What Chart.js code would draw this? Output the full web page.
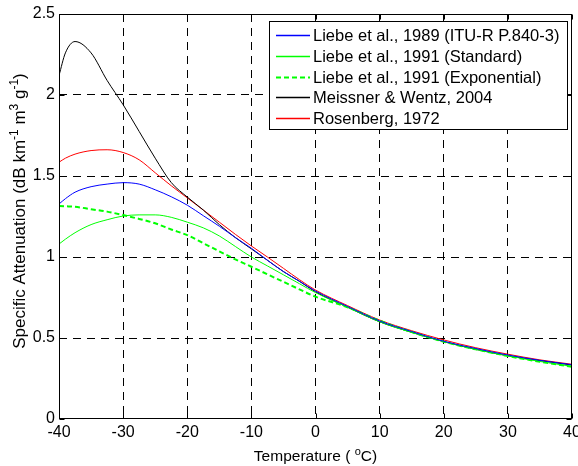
<!DOCTYPE html>
<html>
<head>
<meta charset="utf-8">
<script src="https://cdn.jsdelivr.net/npm/chart.js@4.4.1/dist/chart.umd.min.js"></script>
<style>
  html, body { margin: 0; padding: 0; background: #fff; }
  #wrap { width: 578px; height: 466px; }
</style>
</head>
<body>
<div id="wrap"><canvas id="attnChart"></canvas></div>
<script>
// temperatures (deg C) and specific attenuation (dB km-1 m3 g-1)
const temps = [-40, -39, -37.5, -35, -32.5, -30, -27.5, -25, -22.5, -20, -17.5, -15, -12.5, -10, -7.5, -5, -2.5, 0, 5, 10, 15, 20, 25, 30, 35, 40];

const liebe1989 = [1.327, 1.36, 1.40, 1.434, 1.45, 1.459, 1.45, 1.415, 1.372, 1.32, 1.255, 1.19, 1.12, 1.054, 0.98, 0.91, 0.85, 0.79, 0.695, 0.605, 0.54, 0.48, 0.435, 0.395, 0.362, 0.335];
const liebe1991Std = [1.08, 1.11, 1.15, 1.20, 1.23, 1.253, 1.26, 1.26, 1.245, 1.215, 1.18, 1.13, 1.065, 1.0, 0.945, 0.89, 0.835, 0.78, 0.69, 0.60, 0.535, 0.478, 0.43, 0.39, 0.355, 0.325];
const liebe1991Exp = [1.315, 1.313, 1.31, 1.295, 1.28, 1.259, 1.235, 1.208, 1.17, 1.135, 1.085, 1.035, 0.985, 0.94, 0.893, 0.847, 0.80, 0.755, 0.69, 0.607, 0.537, 0.477, 0.43, 0.389, 0.353, 0.323];
const meissner2004 = [2.12, 2.26, 2.33, 2.26, 2.09, 1.94, 1.775, 1.61, 1.46, 1.37, 1.29, 1.20, 1.12, 1.05, 0.98, 0.91, 0.85, 0.785, 0.69, 0.60, 0.535, 0.477, 0.43, 0.39, 0.36, 0.333];
const rosenberg1972 = [1.585, 1.61, 1.635, 1.657, 1.662, 1.645, 1.60, 1.52, 1.44, 1.365, 1.29, 1.215, 1.14, 1.068, 1.0, 0.93, 0.86, 0.796, 0.70, 0.611, 0.545, 0.488, 0.44, 0.40, 0.365, 0.338];

const xTicks = [-40, -30, -20, -10, 0, 10, 20, 30, 40];
const yTicks = [0, 0.5, 1, 1.5, 2, 2.5];

const FONT = '"Liberation Sans", Arial, sans-serif';

function pts(vals) {
    return temps.map((t, i) => ({ x: t, y: vals[i] }));
}

function series(label, vals, color, dash, width) {
    return {
        label: label,
        data: pts(vals),
        borderColor: color,
        backgroundColor: color,
        borderWidth: width,
        borderDash: dash,
        pointRadius: 0,
        fill: false,
        cubicInterpolationMode: 'monotone'
    };
}

function drawPieces(ctx, pieces, cx, baseY, size, supSize, rise) {
    const big = size + 'px ' + FONT, small = supSize + 'px ' + FONT;
    let total = 0;
    pieces.forEach(p => {
        ctx.font = p[1] ? small : big;
        total += ctx.measureText(p[0]).width;
    });
    let x = cx - total / 2;
    ctx.fillStyle = '#000';
    ctx.textAlign = 'left';
    ctx.textBaseline = 'alphabetic';
    pieces.forEach(p => {
        ctx.font = p[1] ? small : big;
        ctx.fillText(p[0], x, p[1] ? baseY - rise : baseY);
        x += ctx.measureText(p[0]).width;
    });
}

// axis box, inward ticks, axis titles and legend, MATLAB style
const decor = {
    id: 'decor',
    afterDraw(chart) {
        const ctx = chart.ctx;
        const a = chart.chartArea;
        const xs = chart.scales.x, ys = chart.scales.y;
        const L = Math.round(a.left) + 0.5, R = Math.round(a.right) - 0.5;
        const T = Math.round(a.top) + 0.5, B = Math.round(a.bottom) - 0.5;
        ctx.save();
        ctx.strokeStyle = '#000';
        ctx.lineWidth = 1;
        ctx.setLineDash([]);
        ctx.strokeRect(L, T, R - L, B - T);
        ctx.beginPath();
        xTicks.forEach(v => {
            const px = Math.round(xs.getPixelForValue(v)) + 0.5;
            ctx.moveTo(px, B); ctx.lineTo(px, B - 5);
            ctx.moveTo(px, T); ctx.lineTo(px, T + 5);
        });
        yTicks.forEach(v => {
            const py = Math.round(ys.getPixelForValue(v)) + 0.5;
            ctx.moveTo(L, py); ctx.lineTo(L + 5, py);
            ctx.moveTo(R, py); ctx.lineTo(R - 5, py);
        });
        ctx.stroke();

        // x title
        drawPieces(ctx, [['Temperature ( ', false], ['o', true], ['C)', false]], (a.left + a.right) / 2, 461, 15.5, 11, 6);

        // y title
        ctx.save();
        ctx.translate(25, 211);
        ctx.rotate(-Math.PI / 2);
        drawPieces(ctx, [['Specific Attenuation (dB km', false], ['-1', true], [' m', false], ['3', true], [' g', false], ['-1', true], [')', false]], 0, 0, 17, 12, 7);
        ctx.restore();

        // legend
        const bx = 269.5, by = 21.5, bw = 298, bh = 108;
        ctx.fillStyle = '#fff';
        ctx.fillRect(bx, by, bw, bh);
        ctx.strokeStyle = '#000';
        ctx.lineWidth = 1;
        ctx.strokeRect(bx, by, bw, bh);
        ctx.font = '16.5px ' + FONT;
        ctx.textBaseline = 'middle';
        ctx.textAlign = 'left';
        chart.data.datasets.forEach((ds, i) => {
            const yy = Math.round(35 + i * 20.8) + 0.5;
            ctx.save();
            ctx.beginPath();
            ctx.strokeStyle = ds.borderColor;
            ctx.lineWidth = Math.max(ds.borderWidth, 1.4);
            ctx.setLineDash(ds.borderDash.length ? ds.borderDash : []);
            ctx.moveTo(276, yy);
            ctx.lineTo(310, yy);
            ctx.stroke();
            ctx.restore();
            ctx.fillStyle = '#000';
            ctx.fillText(ds.label, 313, yy + 1);
        });
        ctx.restore();
    }
};

const gridColor = c => (c.index === 0 || c.index === c.scale.ticks.length - 1) ? 'rgba(0,0,0,0)' : '#000';

const ctx1 = document.getElementById('attnChart').getContext('2d');
const attnChart = new Chart(ctx1, {
    type: 'line',
    data: {
        datasets: [
            series('Liebe et al., 1989 (ITU-R P.840-3)', liebe1989, '#0000ff', [], 1),
            series('Liebe et al., 1991 (Standard)', liebe1991Std, '#00ff00', [], 1),
            series('Liebe et al., 1991 (Exponential)', liebe1991Exp, '#00ff00', [5, 3], 2),
            series('Meissner & Wentz, 2004', meissner2004, '#000000', [], 1),
            series('Rosenberg, 1972', rosenberg1972, '#ff0000', [], 1)
        ]
    },
    options: {
        responsive: true,
        maintainAspectRatio: false,
        animation: false,
        layout: { padding: { top: 14, right: 6, left: 0, bottom: 0 } },
        plugins: {
            legend: { display: false },
            tooltip: { enabled: false }
        },
        scales: {
            x: {
                type: 'linear',
                min: -40,
                max: 40,
                afterBuildTicks: s => { s.ticks = xTicks.map(v => ({ value: v })); },
                afterFit: s => { s.height = 47; s.paddingLeft = 0; s.paddingRight = 0; },
                ticks: { color: '#000', font: { family: FONT, size: 16 }, padding: 4, maxRotation: 0, callback: v => String(v) },
                grid: { color: gridColor, lineWidth: 1, drawTicks: false },
                border: { display: false, dash: [8, 6] }
            },
            y: {
                type: 'linear',
                min: 0,
                max: 2.5,
                afterBuildTicks: s => { s.ticks = yTicks.map(v => ({ value: v })); },
                afterFit: s => { s.width = 59; },
                ticks: { color: '#000', font: { family: FONT, size: 16 }, padding: 4, callback: v => String(v) },
                grid: { color: gridColor, lineWidth: 1, drawTicks: false },
                border: { display: false, dash: [8, 6] }
            }
        }
    },
    plugins: [decor]
});
</script>
</body>
</html>
